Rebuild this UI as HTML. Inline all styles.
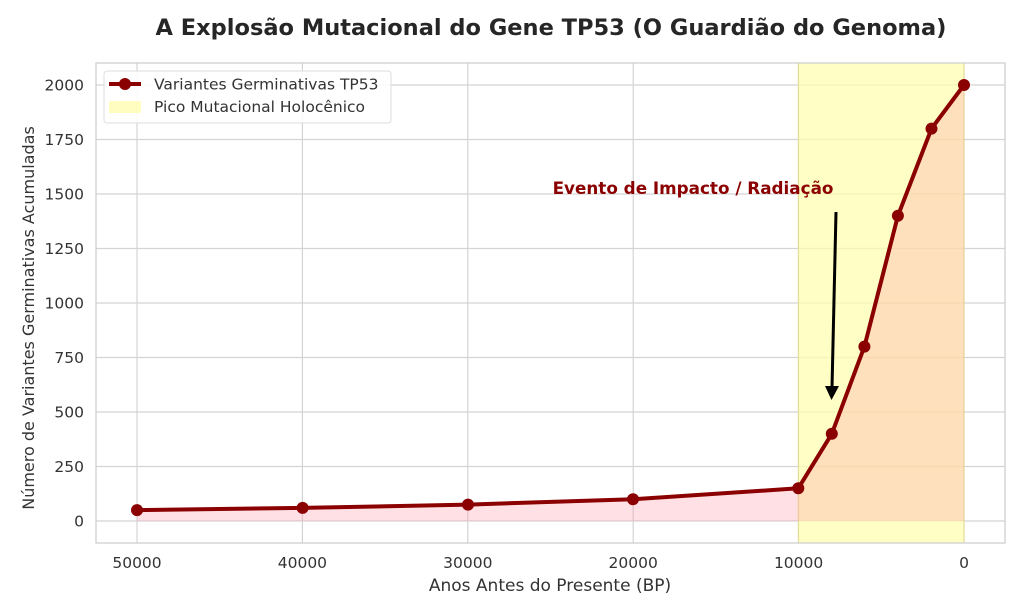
<!DOCTYPE html>
<html><head><meta charset="utf-8"><style>body{margin:0;background:#fff}svg{display:block}text{font-family:"DejaVu Sans","Liberation Sans",sans-serif;fill:#333}</style></head><body>
<svg width="1024" height="615" viewBox="0 0 1024 615">
<rect width="1024" height="615" fill="#fff"/>
<g stroke="#d4d4d4" stroke-width="1.2">
<line x1="137" y1="63" x2="137" y2="543"/><line x1="302.4" y1="63" x2="302.4" y2="543"/><line x1="467.8" y1="63" x2="467.8" y2="543"/><line x1="633.2" y1="63" x2="633.2" y2="543"/><line x1="798.6" y1="63" x2="798.6" y2="543"/><line x1="964" y1="63" x2="964" y2="543"/>
<line x1="96" y1="521" x2="1005" y2="521"/><line x1="96" y1="466.5" x2="1005" y2="466.5"/><line x1="96" y1="412" x2="1005" y2="412"/><line x1="96" y1="357.5" x2="1005" y2="357.5"/><line x1="96" y1="303" x2="1005" y2="303"/><line x1="96" y1="248.5" x2="1005" y2="248.5"/><line x1="96" y1="194" x2="1005" y2="194"/><line x1="96" y1="139.5" x2="1005" y2="139.5"/><line x1="96" y1="85" x2="1005" y2="85"/>
</g>
<rect x="798.3" y="63" width="165.7" height="480" fill="#fffdb0" fill-opacity="0.75" stroke="#e0d890" stroke-width="1"/>
<polygon points="137,510.1 302.6,507.9 468,504.6 633,499.2 798.3,488.3 831.8,433.8 864.4,346.6 897.9,215.8 931.5,128.6 964,85 964,521 137,521" fill="#ff9aa8" fill-opacity="0.3"/>
<rect x="96" y="63" width="909" height="480" fill="none" stroke="#ccc" stroke-width="1.2"/>
<polyline points="137,510.1 302.6,507.9 468,504.6 633,499.2 798.3,488.3 831.8,433.8 864.4,346.6 897.9,215.8 931.5,128.6 964,85" fill="none" stroke="#8b0000" stroke-width="4" stroke-linejoin="round"/>
<g fill="#8b0000">
<circle cx="137" cy="510.1" r="6"/><circle cx="302.6" cy="507.9" r="6"/><circle cx="468" cy="504.6" r="6"/><circle cx="633" cy="499.2" r="6"/><circle cx="798.3" cy="488.3" r="6"/><circle cx="831.8" cy="433.8" r="6"/><circle cx="864.4" cy="346.6" r="6"/><circle cx="897.9" cy="215.8" r="6"/><circle cx="931.5" cy="128.6" r="6"/><circle cx="964" cy="85" r="6"/>
</g>
<line x1="836" y1="212" x2="832" y2="388" stroke="#000" stroke-width="3"/>
<polygon points="825,386 839,386 831.5,400" fill="#000"/>
<text x="693" y="194" text-anchor="middle" font-size="16.8" font-weight="bold" style="fill:#8b0000">Evento de Impacto / Radiação</text>
<g font-size="15.5" text-anchor="end">
<text x="84" y="526.5">0</text><text x="84" y="472">250</text><text x="84" y="417.5">500</text><text x="84" y="363">750</text><text x="84" y="308.5">1000</text><text x="84" y="254">1250</text><text x="84" y="199.5">1500</text><text x="84" y="145">1750</text><text x="84" y="90.5">2000</text>
</g>
<g font-size="15.5" text-anchor="middle">
<text x="137" y="568">50000</text><text x="302.4" y="568">40000</text><text x="467.8" y="568">30000</text><text x="633.2" y="568">20000</text><text x="798.6" y="568">10000</text><text x="964" y="568">0</text>
</g>
<text x="550" y="591" font-size="17" text-anchor="middle">Anos Antes do Presente (BP)</text>
<text transform="translate(34,318) rotate(-90)" font-size="16" text-anchor="middle">Número de Variantes Germinativas Acumuladas</text>
<text x="551" y="35" font-size="22.5" font-weight="bold" text-anchor="middle" style="fill:#262626">A Explosão Mutacional do Gene TP53 (O Guardião do Genoma)</text>
<rect x="104" y="71" width="287" height="52" rx="3" fill="#fff" fill-opacity="0.85" stroke="#ddd"/>
<line x1="109" y1="84" x2="141" y2="84" stroke="#8b0000" stroke-width="4"/>
<circle cx="125" cy="84" r="6" fill="#8b0000"/>
<rect x="109" y="101" width="32" height="12" fill="#fffdb0" fill-opacity="0.8"/>
<text x="154" y="89.5" font-size="15.5">Variantes Germinativas TP53</text>
<text x="154" y="112" font-size="15.5">Pico Mutacional Holocênico</text>
</svg></body></html>
